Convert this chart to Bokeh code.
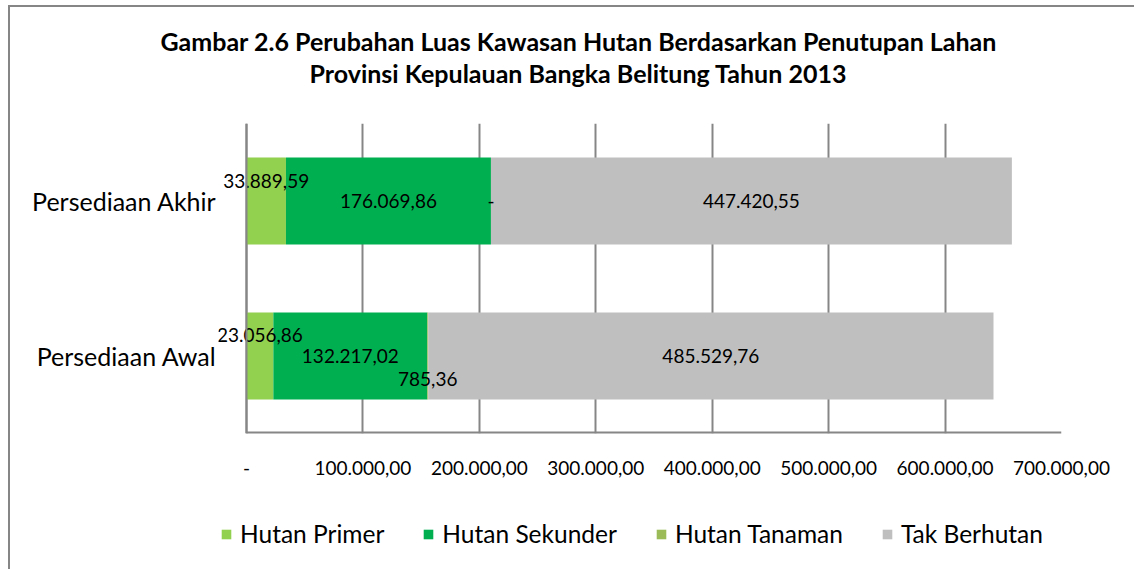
from bokeh.plotting import figure
from bokeh.layouts import column
from bokeh.models import (ColumnDataSource, FixedTicker, Legend, LegendItem, Range1d,
                          Span, Title, InlineStyleSheet)
from bokeh.core.properties import value
from bokeh.embed import file_html
from bokeh.resources import INLINE
import numpy as np

# ---- data ----
categories = ["Persediaan Awal", "Persediaan Akhir"]
series_names = ["Hutan Primer", "Hutan Sekunder", "Hutan Tanaman", "Tak Berhutan"]
hutan_primer = [23056.86, 33889.59]
hutan_sekunder = [132217.02, 176069.86]
hutan_tanaman = [785.36, 0.0]
tak_berhutan = [485529.76, 447420.55]
label_texts = [
    ["23.056,86", "33.889,59"],
    ["132.217,02", "176.069,86"],
    ["785,36", "-"],
    ["485.529,76", "447.420,55"],
]
tick_values = [0, 100000, 200000, 300000, 400000, 500000, 600000, 700000]
tick_labels = ["-", "100.000,00", "200.000,00", "300.000,00", "400.000,00",
               "500.000,00", "600.000,00", "700.000,00"]
title_lines = ["Gambar 2.6 Perubahan Luas Kawasan Hutan Berdasarkan Penutupan Lahan",
               "Provinsi Kepulauan Bangka Belitung Tahun 2013"]

colors = ["#92D050", "#00B050", "#9BBB59", "#BFBFBF"]
FONT = "Lato"
GRAY = "#868686"
W = 1134
H_MAIN, H_LEG = 490, 79
FRAME_LEFT = 218

# label vertical offsets (px, positive = down) per series, per category
label_dy = [[-21, -20], [0, 0], [23, 0], [0, 0]]

# ---- main chart ----
src = ColumnDataSource(dict(cat=categories,
                            p=hutan_primer, s=hutan_sekunder,
                            t=hutan_tanaman, b=tak_berhutan))

# frame extends 28px left of zero so the left data labels are not clipped
left_pad = 28 * 700000 / 815.0
p = figure(width=W, height=H_MAIN, y_range=categories,
           x_range=Range1d(-left_pad, 700000),
           output_backend="svg", toolbar_location=None,
           min_border_left=FRAME_LEFT, min_border_right=73,
           min_border_top=123, min_border_bottom=57)
p.outline_line_color = None

rs = p.hbar_stack(["p", "s", "t", "b"], y="cat", height=0.56, color=colors,
                  line_color=None, source=src)

# axis lines at zero / bottom
p.add_layout(Span(location=0, dimension="height", line_color=GRAY, line_width=2))
p.segment(x0=tick_values[0], y0=0, x1=tick_values[-1], y1=0, line_color=GRAY, line_width=4)

# data labels
series = [hutan_primer, hutan_sekunder, hutan_tanaman, tak_berhutan]
cum = np.zeros(len(categories))
lx, ly, lt, loff = [], [], [], []
for i, vals in enumerate(series):
    v = np.array(vals)
    centers = cum + v / 2.0
    for j, c in enumerate(categories):
        lx.append(float(centers[j]))
        ly.append(c)
        lt.append(label_texts[i][j])
        loff.append(label_dy[i][j])
    cum = cum + v
lsrc = ColumnDataSource(dict(x=lx, y=ly, t=lt, dy=loff))
p.text(x="x", y="y", text="t", y_offset="dy", source=lsrc,
       text_font=value(FONT), text_font_size="19px", text_color="black",
       text_align="center", text_baseline="middle")

p.xaxis.ticker = FixedTicker(ticks=tick_values)
p.xaxis.major_label_overrides = {v: l for v, l in zip(tick_values, tick_labels)}
p.xaxis.major_label_text_font = FONT
p.xaxis.major_label_text_font_size = "19px"
p.xaxis.major_label_text_color = "black"
p.xaxis.major_label_standoff = 27
p.xaxis.major_tick_line_color = None
p.xaxis.major_tick_out = 0
p.xaxis.major_tick_in = 0
p.xaxis.minor_tick_line_color = None
p.xaxis.axis_line_color = None

p.yaxis.major_label_text_font = FONT
p.yaxis.major_label_text_font_size = "25px"
p.yaxis.major_label_text_color = "black"
p.yaxis.major_label_standoff = 2
p.yaxis.major_tick_line_color = None
p.yaxis.major_tick_out = 0
p.yaxis.major_tick_in = 0
p.yaxis.minor_tick_line_color = None
p.yaxis.axis_line_color = None

p.xgrid.ticker = FixedTicker(ticks=tick_values)
p.xgrid.grid_line_color = GRAY
p.xgrid.grid_line_width = 2
p.ygrid.grid_line_color = None

# ---- title (stacked from the frame outward: spacer, line 2, line 1) ----
p.add_layout(Title(text=" ", text_font_size="1px", standoff=33), "above")
for line, off in [(title_lines[1], 91), (title_lines[0], -58)]:
    p.add_layout(Title(text=line, align="left", offset=off, standoff=0,
                       text_font=FONT, text_font_style="bold", text_font_size="25px",
                       text_color="black"), "above")

# ---- legend (own small plot below the chart) ----
pl = figure(width=W, height=H_LEG, x_range=Range1d(0, 1), y_range=Range1d(0, 1),
            x_axis_type=None, y_axis_type=None, output_backend="svg",
            toolbar_location=None, min_border=0)
pl.outline_line_color = None
pl.xgrid.visible = False
pl.ygrid.visible = False
nan = float("nan")
lrs = [pl.rect(x=[nan], y=[nan], width=1, height=1, fill_color=c, line_color=None)
       for c in colors]
items = [LegendItem(label=n, renderers=[r]) for n, r in zip(series_names, lrs)]
legend = Legend(items=items, orientation="horizontal", location=(2, 21),
                label_text_font=FONT, label_text_font_size="24.5px",
                label_text_color="black",
                glyph_width=12, glyph_height=12, label_standoff=8, spacing=38,
                border_line_color=None, background_fill_alpha=0,
                margin=0, padding=0)
pl.add_layout(legend)

layout = column(p, pl, spacing=0)
layout.stylesheets = [InlineStyleSheet(css=(
    ":host{position:relative;}"
    ":host::after{content:'';position:absolute;left:8px;top:5px;right:0;bottom:0;"
    "border-left:2px solid #868686;border-top:2px solid #868686;"
    "pointer-events:none;z-index:10;}"))]

open("out.html", "w").write(file_html(layout, INLINE))
